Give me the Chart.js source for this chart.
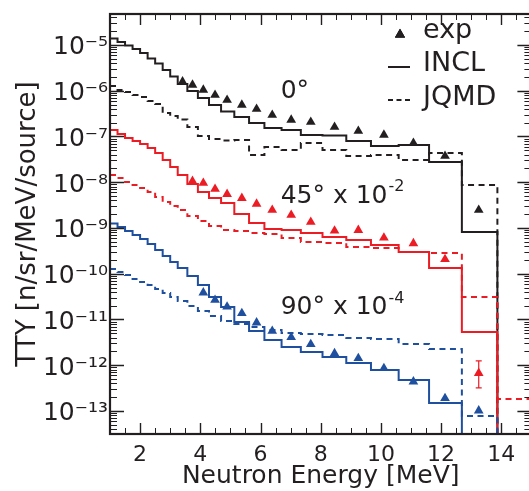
<!DOCTYPE html>
<html>
<head>
<meta charset="utf-8">
<script src="https://cdn.jsdelivr.net/npm/chart.js@4.4.1/dist/chart.umd.min.js"></script>
<style>
html, body { margin: 0; padding: 0; background: #ffffff; overflow: hidden; }
#wrap { width: 529px; height: 491px; overflow: hidden; position: relative; }
canvas { display: block; }
</style>
</head>
<body>
<div id="wrap"><canvas id="c" width="537" height="491" style="width:537px;height:491px"></canvas></div>
<script>
// ---------------- data ----------------
const binEdges = [1.0, 1.25, 1.5, 1.75, 2.0, 2.25, 2.5, 2.75, 3.0, 3.25, 3.57, 3.92, 4.29, 4.69, 5.13, 5.62, 6.13, 6.70, 7.34, 8.06, 8.85, 9.67, 10.59, 11.60, 12.69, 13.87, 15.0];

const incl0  = [1.39e-5, 1.16e-5, 9.75e-6, 8.18e-6, 6.68e-6, 5.07e-6, 3.94e-6, 2.84e-6, 2.05e-6, 1.41e-6, 9.87e-7, 6.95e-7, 4.89e-7, 3.52e-7, 2.67e-7, 1.97e-7, 1.53e-7, 1.39e-7, 1.08e-7, 1.05e-7, 7.97e-8, 6.20e-8, 6.52e-8, 2.77e-8, 8.18e-10];
const jqmd0  = [1.27e-6, 1.04e-6, 9.39e-7, 8.07e-7, 7.30e-7, 5.97e-7, 5.13e-7, 3.26e-7, 2.81e-7, 2.35e-7, 1.61e-7, 1.03e-7, 8.82e-8, 8.18e-8, 8.38e-8, 3.94e-8, 5.89e-8, 5.07e-8, 7.21e-8, 5.07e-8, 3.75e-8, 3.94e-8, 3.06e-8, 4.36e-8, 8.71e-9];
const incl45 = [1.39e-7, 1.13e-7, 9.27e-8, 7.97e-8, 6.86e-8, 5.61e-8, 4.36e-8, 3.06e-8, 2.15e-8, 1.44e-8, 9.16e-9, 6.12e-9, 4.53e-9, 3.52e-9, 2.02e-9, 1.29e-9, 9.51e-10, 9.04e-10, 7.78e-10, 6.36e-10, 5.47e-10, 4.25e-10, 2.99e-10, 1.34e-10, 5.33e-12];
const jqmd45 = [1.44e-8, 1.24e-8, 1.01e-8, 8.71e-9, 7.49e-9, 6.12e-9, 4.76e-9, 3.70e-9, 3.03e-9, 2.47e-9, 1.83e-9, 1.42e-9, 1.11e-9, 9.04e-10, 8.60e-10, 7.78e-10, 7.39e-10, 6.04e-10, 4.94e-10, 4.70e-10, 3.84e-10, 3.65e-10, 2.99e-10, 2.84e-10, 3.10e-11, 1.83e-13];
const incl90 = [1.25e-9, 1.05e-9, 8.60e-10, 7.03e-10, 5.75e-10, 4.47e-10, 3.30e-10, 2.44e-10, 1.81e-10, 1.34e-10, 8.93e-11, 5.68e-11, 3.10e-11, 1.88e-11, 8.82e-12, 5.61e-12, 3.56e-12, 2.51e-12, 1.95e-12, 1.51e-12, 1.12e-12, 7.88e-13, 4.76e-13, 1.50e-13, null];
const jqmd90 = [1.27e-10, 1.09e-10, 9.39e-11, 7.68e-11, 6.60e-11, 5.68e-11, 4.64e-11, 3.80e-11, 3.10e-11, 2.54e-11, 1.97e-11, 1.53e-11, 1.19e-11, 9.27e-12, 7.97e-12, 6.86e-12, 5.89e-12, 5.07e-12, 4.82e-12, 4.58e-12, 3.94e-12, 3.75e-12, 2.91e-12, 2.26e-12, 7.78e-14];

const expEnergy = [3.41, 3.74, 4.10, 4.49, 4.89, 5.38, 5.87, 6.39, 7.02, 7.67, 8.46, 9.25, 10.10, 11.08, 12.13, 13.25];
const exp0  = [1.58e-6, 1.34e-6, 1.04e-6, 8.07e-7, 6.28e-7, 4.89e-7, 3.99e-7, 2.95e-7, 2.30e-7, 2.07e-7, 1.61e-7, 1.32e-7, 1.08e-7, 7.21e-8, 3.75e-8, 2.47e-9];
const exp45 = [null, 1.06e-8, 9.6e-9, 7.1e-9, 5.5e-9, 4.5e-9, 3.35e-9, 2.47e-9, 1.92e-9, 1.35e-9, 8.7e-10, 9.0e-10, 6.1e-10, 4.6e-10, 2.07e-10, 6.7e-13];
const exp90 = [null, null, 3.86e-11, 2.67e-11, 1.90e-11, 1.37e-11, 8.5e-12, 5.6e-12, 4.08e-12, 2.87e-12, 1.82e-12, 1.42e-12, 8.6e-13, 4.37e-13, 1.90e-13, 1.02e-13];
const exp45ErrLow  = [null, null, null, null, null, null, null, null, null, null, null, null, null, null, null, 3.2e-13];
const exp45ErrHigh = [null, null, null, null, null, null, null, null, null, null, null, null, null, null, null, 1.24e-12];

const xTickValues = [2, 4, 6, 8, 10, 12, 14];
const xTickLabels = ['2', '4', '6', '8', '10', '12', '14'];
const yTickValues = [1e-13, 1e-12, 1e-11, 1e-10, 1e-9, 1e-8, 1e-7, 1e-6, 1e-5];
const yTickLabels = ['10\u207B\u00B9\u00B3', '10\u207B\u00B9\u00B2', '10\u207B\u00B9\u00B9', '10\u207B\u00B9\u2070', '10\u207B\u2079', '10\u207B\u2078', '10\u207B\u2077', '10\u207B\u2076', '10\u207B\u2075'];
const seriesNames = ['exp', 'INCL', 'JQMD'];
const angleTexts = ['0\u00B0', '45\u00B0 x 10', '90\u00B0 x 10'];
const angleExponents = ['', '-2', '-4'];
const xTitle = 'Neutron Energy [MeV]';
const yTitle = 'TTY [n/sr/MeV/source]';

// ---------------- styling ----------------
const BLACK = '#231f20';
const RED = '#ec1c24';
const BLUE = '#1f4f9f';
const FONT = "'DejaVu Sans', sans-serif";
const DASH = [6, 4.5];
const FLOOR = 1e-16;

function stepPoints(edges, vals) {
  const pts = [];
  for (let i = 0; i < vals.length; i++) {
    if (vals[i] == null) break;
    pts.push({x: edges[i], y: vals[i]});
  }
  const n = pts.length;
  pts.push({x: edges[n], y: vals[n - 1]});
  pts.push({x: edges[n], y: FLOOR});
  return pts;
}
function expPoints(vals) {
  const pts = [];
  vals.forEach((v, i) => { if (v != null) pts.push({x: expEnergy[i], y: v}); });
  return pts;
}
function lineDs(label, pts, color, dashed) {
  return {label, data: pts, borderColor: color, backgroundColor: color, borderWidth: 2,
    borderDash: dashed ? DASH : [], pointRadius: 0, pointHoverRadius: 0, stepped: true,
    fill: false, tension: 0, showLine: true};
}
function expDs(label, pts, color) {
  return {label, data: pts, showLine: false, pointStyle: 'triangle', pointRadius: 5.6,
    pointHoverRadius: 5.6, backgroundColor: color, borderColor: color, borderWidth: 0};
}

const datasets = [
  expDs('exp 0', expPoints(exp0), BLACK),
  expDs('exp 45', expPoints(exp45), RED),
  expDs('exp 90', expPoints(exp90), BLUE),
  lineDs('JQMD 90', stepPoints(binEdges, jqmd90), BLUE, true),
  lineDs('JQMD 45', stepPoints(binEdges, jqmd45), RED, true),
  lineDs('INCL 45', stepPoints(binEdges, incl45), RED, false),
  lineDs('INCL 90', stepPoints(binEdges, incl90), BLUE, false),
  lineDs('JQMD 0', stepPoints(binEdges, jqmd0), BLACK, true),
  lineDs('INCL 0', stepPoints(binEdges, incl0), BLACK, false)
];

// frame + inward ticks
const frameTicks = {
  id: 'frameTicks',
  afterDatasetsDraw(chart) {
    const {ctx, chartArea: ca, scales: {x, y}} = chart;
    ctx.save();
    ctx.strokeStyle = BLACK;
    const d0 = Math.floor(Math.log10(y.min)), d1 = Math.ceil(Math.log10(y.max));
    for (let d = d0; d <= d1; d++) {
      for (let m = 1; m < 10; m++) {
        const v = m * Math.pow(10, d);
        if (v < y.min || v > y.max) continue;
        const py = Math.round(y.getPixelForValue(v)) + 0.5;
        const len = m === 1 ? 14 : 7;
        ctx.lineWidth = m === 1 ? 1.4 : 1;
        ctx.beginPath();
        ctx.moveTo(ca.left, py); ctx.lineTo(ca.left + len, py);
        ctx.moveTo(ca.right, py); ctx.lineTo(ca.right - len, py);
        ctx.stroke();
      }
    }
    for (let k = 3; k < x.max * 2; k++) {
      const e = k / 2;
      const major = (k % 4 === 0);
      const px = Math.round(x.getPixelForValue(e)) + 0.5;
      const len = major ? 11 : 6;
      ctx.lineWidth = major ? 1.4 : 1;
      ctx.beginPath();
      ctx.moveTo(px, ca.bottom); ctx.lineTo(px, ca.bottom - len);
      ctx.moveTo(px, ca.top); ctx.lineTo(px, ca.top + len);
      ctx.stroke();
    }
    ctx.lineWidth = 2.2;
    ctx.strokeRect(ca.left, ca.top, ca.right - ca.left, ca.bottom - ca.top);
    ctx.restore();
  }
};

// error bars, legend, angle annotations
const extras = {
  id: 'extras',
  afterDraw(chart) {
    const {ctx, scales: {x, y}} = chart;
    ctx.save();
    // error bars
    ctx.strokeStyle = RED; ctx.lineWidth = 1.2;
    expEnergy.forEach((e, i) => {
      if (exp45ErrLow[i] == null) return;
      const px = x.getPixelForValue(e);
      const p1 = y.getPixelForValue(exp45ErrHigh[i]), p0 = y.getPixelForValue(exp45ErrLow[i]);
      ctx.beginPath();
      ctx.moveTo(px, p0); ctx.lineTo(px, p1);
      ctx.moveTo(px - 3, p1); ctx.lineTo(px + 3, p1);
      ctx.moveTo(px - 3, p0); ctx.lineTo(px + 3, p0);
      ctx.stroke();
    });
    // legend
    const lx = 388, tx = 423;
    const rows = [30.5, 63.5, 97.5];
    Chart.helpers.drawPoint(ctx, {pointStyle: 'triangle', radius: 5.8, borderWidth: 0}, 400, 34.5);
    ctx.fillStyle = BLACK;
    Chart.helpers.drawPoint(ctx, {pointStyle: 'triangle', radius: 5.8, borderWidth: 0}, 400, 34.5);
    ctx.fill();
    ctx.strokeStyle = BLACK; ctx.lineWidth = 2;
    ctx.setLineDash([]);
    ctx.beginPath(); ctx.moveTo(lx, 67); ctx.lineTo(lx + 22, 67); ctx.stroke();
    ctx.setLineDash([5, 3.5]);
    ctx.beginPath(); ctx.moveTo(lx, 100); ctx.lineTo(lx + 23, 100); ctx.stroke();
    ctx.setLineDash([]);
    ctx.font = '27px ' + FONT;
    ctx.textAlign = 'left'; ctx.textBaseline = 'middle';
    seriesNames.forEach((s, i) => ctx.fillText(s, tx, rows[i]));
    // angle annotations (anchored in data coordinates)
    const anchors = [{e: 6.67, v: 9.4e-7}, {e: 6.67, v: 5.0e-9}, {e: 6.67, v: 1.83e-11}];
    anchors.forEach((a, i) => {
      const px = x.getPixelForValue(a.e), py = y.getPixelForValue(a.v);
      ctx.font = '25px ' + FONT;
      ctx.textBaseline = 'middle';
      ctx.fillText(angleTexts[i], px, py);
      if (angleExponents[i]) {
        const w = ctx.measureText(angleTexts[i]).width;
        ctx.font = '16px ' + FONT;
        ctx.fillText(angleExponents[i], px + w + 1, py - 9);
      }
    });
    ctx.restore();
  }
};

new Chart(document.getElementById('c'), {
  type: 'line',
  data: {datasets},
  plugins: [frameTicks, extras],
  options: {
    responsive: false,
    animation: false,
    devicePixelRatio: 1,
    parsing: true,
    layout: {padding: {top: 14, left: 0, right: 0, bottom: 0}},
    plugins: {legend: {display: false}, tooltip: {enabled: false}},
    events: [],
    scales: {
      x: {
        type: 'linear', min: 1, max: 15, position: 'bottom',
        afterBuildTicks: s => { s.ticks = xTickValues.map(v => ({value: v})); },
        afterFit: s => { s.height = 57; s.paddingLeft = 0; s.paddingRight = 0; },
        grid: {display: false, drawTicks: false},
        border: {display: false},
        ticks: {
          autoSkip: false, maxRotation: 0, padding: 8, color: BLACK,
          font: {family: FONT, size: 22},
          callback: v => { const i = xTickValues.indexOf(v); return i >= 0 ? xTickLabels[i] : ''; }
        },
        title: {display: true, text: xTitle, color: BLACK, font: {family: FONT, size: 25}, padding: {top: 0, bottom: 0}}
      },
      y: {
        type: 'logarithmic', min: 3.14e-14, max: 4.76e-5, position: 'left',
        afterBuildTicks: s => { s.ticks = yTickValues.map(v => ({value: v})); },
        afterFit: s => { s.width = 110; s.paddingTop = 0; s.paddingBottom = 0; },
        grid: {display: false, drawTicks: false},
        border: {display: false},
        ticks: {
          autoSkip: false, padding: 2, labelOffset: 3, color: BLACK,
          font: {family: FONT, size: 25},
          callback: v => {
            const i = yTickValues.findIndex(t => Math.abs(Math.log10(t) - Math.log10(v)) < 1e-6);
            return i >= 0 ? yTickLabels[i] : '';
          }
        },
        title: {display: true, text: yTitle, color: BLACK, font: {family: FONT, size: 26}, padding: {top: 13, bottom: 0}}
      }
    }
  }
});
</script>
</body>
</html>
